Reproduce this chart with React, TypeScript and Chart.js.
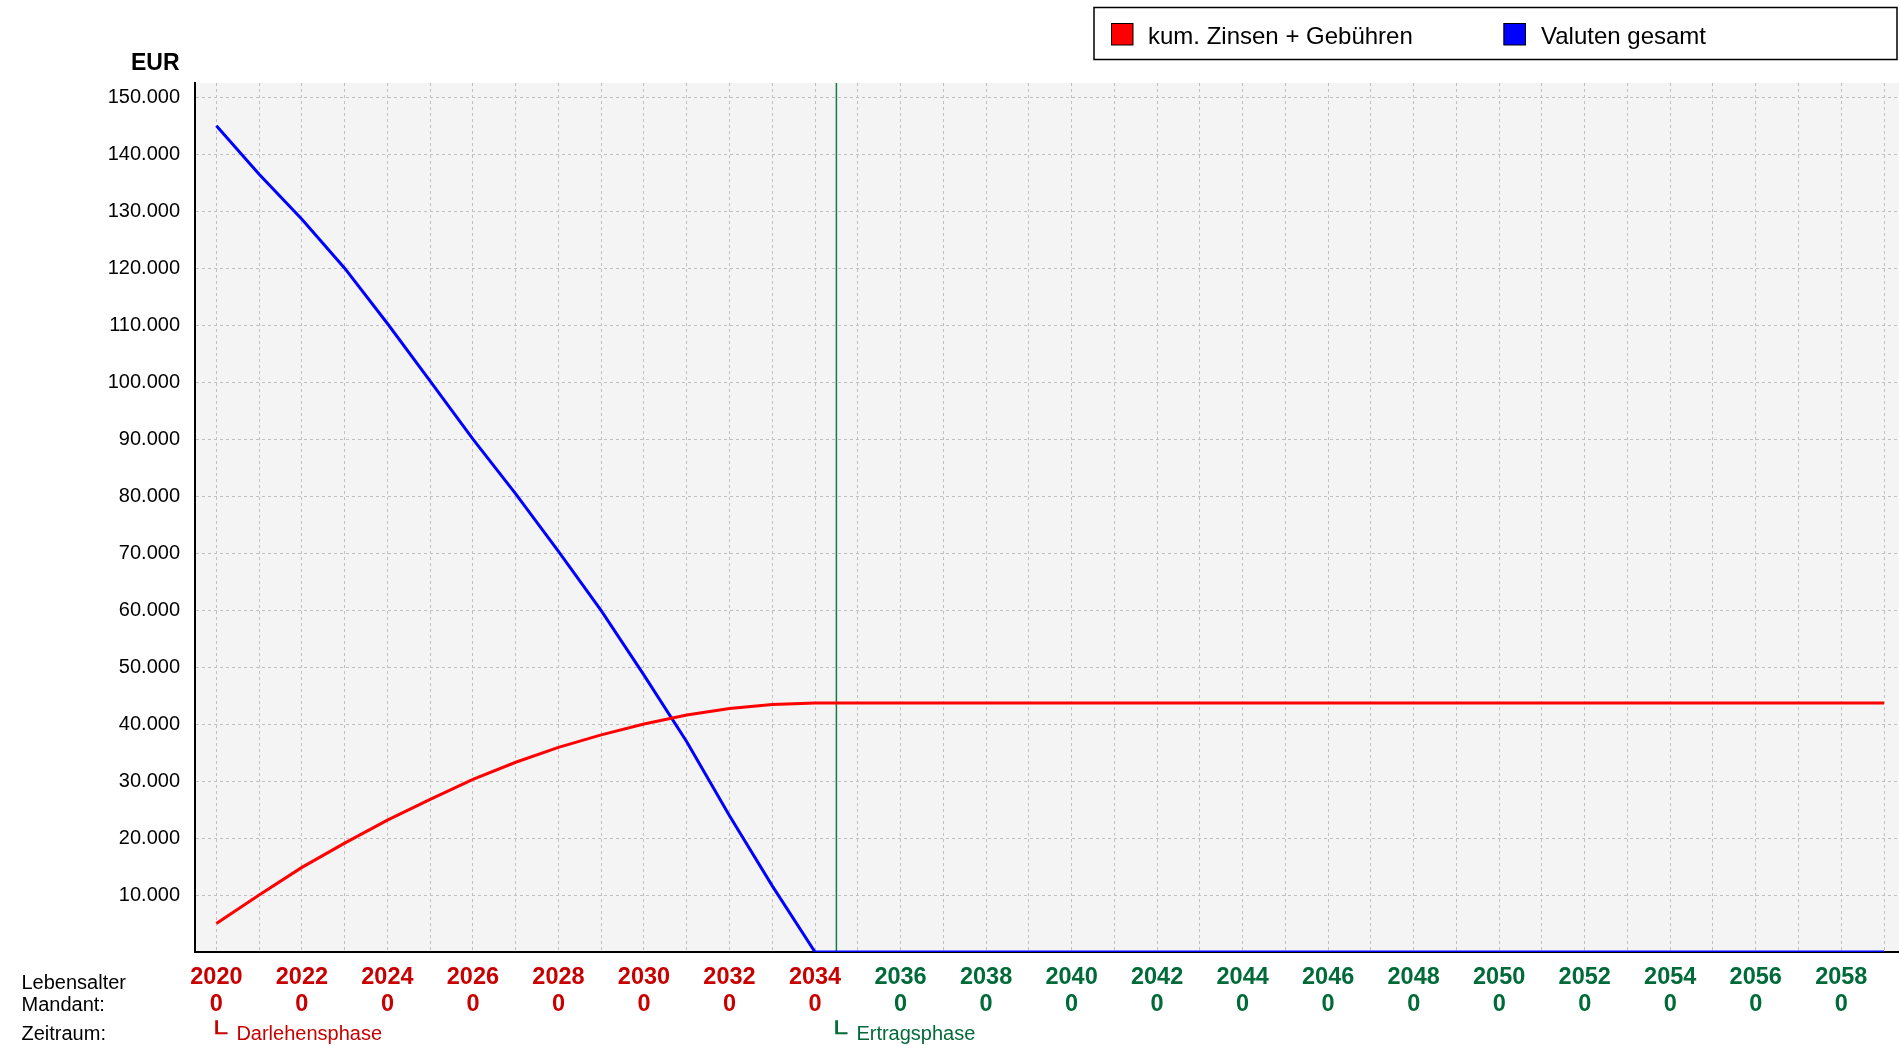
import React, { useEffect, useRef } from 'react';
import { Chart, registerables } from 'chart.js';

Chart.register(...registerables);

const years = [
  2020, 2021, 2022, 2023, 2024, 2025, 2026, 2027, 2028, 2029,
  2030, 2031, 2032, 2033, 2034, 2035, 2036, 2037, 2038, 2039,
  2040, 2041, 2042, 2043, 2044, 2045, 2046, 2047, 2048, 2049,
  2050, 2051, 2052, 2053, 2054, 2055, 2056, 2057, 2058, 2059,
];

const zinsenGebuehren = [
  5000, 10000, 14850, 19100, 23150, 26800, 30300, 33300, 35900, 38100,
  40000, 41600, 42750, 43450, 43700, 43700, 43700, 43700, 43700, 43700,
  43700, 43700, 43700, 43700, 43700, 43700, 43700, 43700, 43700, 43700,
  43700, 43700, 43700, 43700, 43700, 43700, 43700, 43700, 43700, 43700,
];

const valutenGesamt = [
  145000, 136500, 128600, 120000, 110300, 100200, 90000, 80400, 70300, 59900,
  48600, 36900, 23900, 11600, 0, 0, 0, 0, 0, 0,
  0, 0, 0, 0, 0, 0, 0, 0, 0, 0,
  0, 0, 0, 0, 0, 0, 0, 0, 0, 0,
];

const yTickValues = [
  0, 10000, 20000, 30000, 40000, 50000, 60000, 70000,
  80000, 90000, 100000, 110000, 120000, 130000, 140000, 150000,
];

const xLabelYears = [
  2020, 2022, 2024, 2026, 2028, 2030, 2032, 2034, 2036, 2038,
  2040, 2042, 2044, 2046, 2048, 2050, 2052, 2054, 2056, 2058,
];

const lebensalter = [0, 0, 0, 0, 0, 0, 0, 0, 0, 0, 0, 0, 0, 0, 0, 0, 0, 0, 0, 0];

const phaseLabels = ['Darlehensphase', 'Ertragsphase'];
const phaseStarts = [2020, 2034.5];
const rowLabels = ['Lebensalter', 'Mandant:', 'Zeitraum:'];
const legendLabels = ['kum. Zinsen + Gebühren', 'Valuten gesamt'];
const yUnit = 'EUR';

const FONT = '"Liberation Sans", Arial, Helvetica, sans-serif';
const RED_TXT = '#c80000';
const GREEN_TXT = '#006b38';
const GREEN_LINE = '#1a7a45';
const LINE_RED = '#ff0000';
const LINE_BLUE = '#0000ff';

function fmtDe(v: number): string {
  const s = Math.round(v).toString();
  return s.replace(/\B(?=(\d{3})+(?!\d))/g, '.');
}

const decorPlugin = {
  id: 'decor',
  beforeDraw(chart: any) {
    const { ctx, chartArea } = chart;
    const { left, top, right, bottom } = chartArea;
    ctx.save();
    ctx.fillStyle = '#f4f4f4';
    ctx.fillRect(left, top, right - left, bottom - top);
    ctx.restore();
  },
  beforeDatasetsDraw(chart: any) {
    const { ctx, chartArea } = chart;
    const x = chart.scales.x.getPixelForValue(phaseStarts[1]);
    ctx.save();
    ctx.strokeStyle = GREEN_LINE;
    ctx.lineWidth = 1.5;
    ctx.beginPath();
    ctx.moveTo(x, chartArea.top);
    ctx.lineTo(x, chartArea.bottom);
    ctx.stroke();
    ctx.restore();
  },
  afterDraw(chart: any) {
    const { ctx } = chart;
    const xs = chart.scales.x;
    ctx.save();

    // Legend box
    ctx.fillStyle = '#ffffff';
    ctx.fillRect(1094, 7.5, 803, 52);
    ctx.strokeStyle = '#000000';
    ctx.lineWidth = 1.5;
    ctx.strokeRect(1094, 7.5, 803, 52);

    const legendItems = [
      { label: legendLabels[0], color: LINE_RED, sx: 1111, tx: 1148 },
      { label: legendLabels[1], color: LINE_BLUE, sx: 1503.5, tx: 1541 },
    ];
    ctx.font = `24px ${FONT}`;
    ctx.textBaseline = 'alphabetic';
    ctx.textAlign = 'left';
    legendItems.forEach((it) => {
      ctx.fillStyle = it.color;
      ctx.fillRect(it.sx, 23, 22, 22);
      ctx.strokeStyle = '#000';
      ctx.lineWidth = 1;
      ctx.strokeRect(it.sx + 0.5, 23.5, 21.5, 21.5);
      ctx.fillStyle = '#000';
      ctx.fillText(it.label, it.tx, 43.5);
    });

    // Y unit
    ctx.font = `bold 23px ${FONT}`;
    ctx.textAlign = 'right';
    ctx.fillStyle = '#000';
    ctx.fillText(yUnit, 179.5, 69.5);

    // Row labels
    ctx.font = `20px ${FONT}`;
    ctx.textAlign = 'left';
    ctx.fillText(rowLabels[0], 21.5, 988.5);
    ctx.fillText(rowLabels[1], 21.5, 1011);
    ctx.fillText(rowLabels[2], 21.5, 1040);

    // Phase labels
    const phaseColors = [RED_TXT, GREEN_TXT];
    phaseLabels.forEach((lab, i) => {
      const px = xs.getPixelForValue(phaseStarts[i]);
      ctx.fillStyle = phaseColors[i];
      ctx.save();
      ctx.translate(px, 1035);
      ctx.scale(1.6, 1.0);
      ctx.font = `22px "DejaVu Sans", ${FONT}`;
      ctx.textBaseline = 'middle';
      ctx.fillText('\u2514', -6.6, 0);
      ctx.restore();
      ctx.font = `20px ${FONT}`;
      ctx.textBaseline = 'alphabetic';
      ctx.fillText(lab, px + 20, 1040);
    });

    ctx.restore();
  },
};

export default function App() {
  const canvasRef = useRef<HTMLCanvasElement | null>(null);

  useEffect(() => {
    document.body.style.margin = '0';
    const canvas = canvasRef.current;
    if (!canvas) return;

    const chart = new Chart(canvas, {
      type: 'line',
      data: {
        datasets: [
          {
            label: legendLabels[0],
            data: years.map((y, i) => ({ x: y, y: zinsenGebuehren[i] })),
            borderColor: LINE_RED,
            backgroundColor: LINE_RED,
            borderWidth: 3,
            pointRadius: 0,
            tension: 0,
            fill: false,
          },
          {
            label: legendLabels[1],
            data: years.map((y, i) => ({ x: y, y: valutenGesamt[i] })),
            borderColor: LINE_BLUE,
            backgroundColor: LINE_BLUE,
            borderWidth: 3,
            pointRadius: 0,
            tension: 0,
            fill: false,
          },
        ],
      },
      options: {
        animation: false,
        responsive: false,
        maintainAspectRatio: false,
        devicePixelRatio: 1,
        layout: { padding: { top: 83, left: 0, right: 0, bottom: 0 } },
        plugins: {
          legend: { display: false },
          tooltip: { enabled: false },
          title: { display: false },
        },
        scales: {
          x: {
            type: 'linear',
            min: 2019.5,
            max: 2059.35,
            afterBuildTicks: (scale: any) => {
              scale.ticks = years.map((v) => ({ value: v }));
            },
            afterFit: (scale: any) => {
              scale.height = 96;
            },
            grid: {
              color: '#c0c0c0',
              lineWidth: 1,
              drawTicks: false,
            },
            border: { display: true, color: '#000', width: 2, dash: [3, 3] },
            ticks: {
              autoSkip: false,
              maxRotation: 0,
              minRotation: 0,
              padding: 12,
              font: { family: FONT, size: 23.5, weight: 'bold', lineHeight: 1.15 },
              color: (ctx: any) => (ctx.tick && ctx.tick.value <= 2034 ? RED_TXT : GREEN_TXT),
              callback: (value: any) => {
                const i = xLabelYears.indexOf(Number(value));
                return i >= 0 ? [String(value), String(lebensalter[i])] : '';
              },
            },
          },
          y: {
            type: 'linear',
            min: 0,
            max: 152500,
            afterBuildTicks: (scale: any) => {
              scale.ticks = yTickValues.map((v) => ({ value: v }));
            },
            afterFit: (scale: any) => {
              scale.width = 195;
            },
            grid: {
              color: '#c0c0c0',
              lineWidth: 1,
              drawTicks: false,
            },
            border: { display: true, color: '#000', width: 2, dash: [3, 3] },
            ticks: {
              padding: 15,
              font: { family: FONT, size: 20 },
              color: '#000',
              callback: (value: any) => (Number(value) === 0 ? '' : fmtDe(Number(value))),
            },
          },
        },
      },
      plugins: [decorPlugin],
    } as any);

    return () => {
      chart.destroy();
    };
  }, []);

  return (
    <div style={{ width: 1899, height: 1048, overflow: 'hidden', background: '#fff' }}>
      <canvas ref={canvasRef} width={1899} height={1048} style={{ display: 'block', width: 1899, height: 1048 }} />
    </div>
  );
}
